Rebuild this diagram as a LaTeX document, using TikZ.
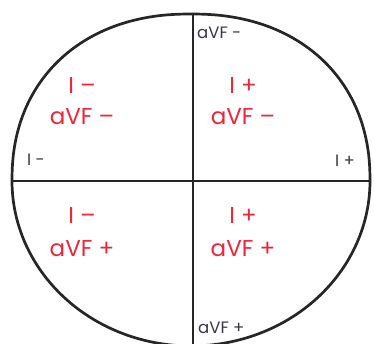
\documentclass[tikz,border=0pt]{standalone}
\usepackage{fontspec}
\setmainfont{Poppins}
\definecolor{signred}{RGB}{238,38,60}
\definecolor{labgray}{RGB}{55,55,65}
\tikzset{
  outline/.style={line width=2.7pt, black!85},
  axis/.style={line width=2.7pt, black!85},
  sign/.style={text=signred, font=\fontsize{23}{27}\selectfont, align=center, inner sep=0pt},
  lead/.style={text=labgray, font=\fontsize{16.5}{19}\selectfont, inner sep=0pt},
}
\begin{document}
\begin{tikzpicture}[x=1pt,y=-1pt]
\useasboundingbox (0,0) rectangle (374,344);
\draw[outline] plot[domain=0:180, samples=121]
   ({191+179*sign(cos(\x))*pow(abs(cos(\x))+0.000001,2/2.2)},
    {181-167*pow(abs(sin(\x))+0.000001,2/2.2)})
  -- plot[domain=180:360, samples=121] ({191+179*cos(\x)}, {181-165*sin(\x)}) -- cycle;
\coordinate (top) at (193,13);
\coordinate (bot) at (193,346);
\coordinate (lft) at (12,181);
\coordinate (rgt) at (370,181);
\draw[axis] (top) -- (bot);
\draw[axis] (lft) -- (rgt);
% red quadrant labels
\node[sign] (q1a) at (82,85) {I –};
\node[sign] (q1b) at (82,117) {aVF –};
\node[sign] (q2a) at (243,85) {I +};
\node[sign] (q2b) at (243,117) {aVF –};
\node[sign] (q3a) at (82,215) {I –};
\node[sign] (q3b) at (82,249) {aVF +};
\node[sign] (q4a) at (243,215) {I +};
\node[sign] (q4b) at (243,249) {aVF +};
% lead labels
\node[lead, anchor=west] (avfm) at (197,33) {aVF -};
\node[lead, anchor=west] (avfp) at (198,328) {aVF +};
\node[lead, anchor=west] (im) at (27,160) {I -};
\node[lead, anchor=west] (ip) at (335,161) {I +};
\end{tikzpicture}
\end{document}
